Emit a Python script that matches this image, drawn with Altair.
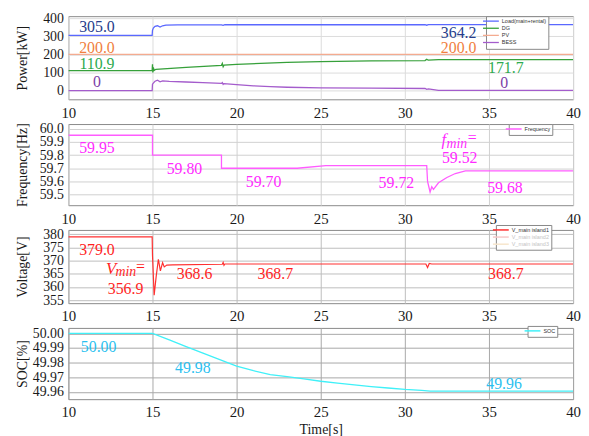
import altair as alt
import pandas as pd

SERIF = "'Liberation Serif', 'Times New Roman', 'DejaVu Serif', serif"
SANS = "'Liberation Sans', Arial, sans-serif"
X_TICKS = [10, 15, 20, 25, 30, 35, 40]

# ---------------- Panel 1: Power [kW] ----------------
power_series = ["Load(main+rental)", "DG", "PV", "BESS"]
power_colors = ["#5a68ff", "#36a03a", "#f4ab90", "#a45ccc"]
power_widths = [1.3, 1.3, 2.4, 1.3]

load_t = [10, 14.98, 15.0, 15.05, 15.15, 15.3, 15.45, 15.6, 15.8, 16.5, 19.1, 19.2, 19.3, 31.2, 31.3, 31.4, 40]
load_kw = [305.0, 305.0, 333, 345, 355, 358, 351, 358, 362, 363, 363, 360, 363.5, 364, 361, 364.2, 364.2]
dg_t = [10, 14.98, 15.0, 15.02, 15.05, 15.1, 15.2, 17, 19.1, 19.15, 19.2, 19.25, 20, 23, 25, 28, 31.2, 31.3, 31.4, 32, 40]
dg_kw = [110.9, 110.9, 145, 100, 128, 112, 118, 129, 140, 150, 132, 141, 145, 156, 160, 164, 166, 173, 168, 171.7, 171.7]
pv_t = [10, 40]
pv_kw = [200.0, 200.0]
bess_t = [10, 14.98, 15.0, 15.05, 15.15, 15.3, 15.45, 15.6, 16, 17, 18, 19.1, 19.15, 19.2, 19.25, 20, 21, 22, 23, 25, 28, 31.2, 31.3, 31.4, 32, 33, 40]
bess_kw = [0, 0, 36, 42, 52, 58, 49, 54, 51, 48, 44, 40, 45, 35, 39, 33, 27, 22, 19, 16, 14, 12, 7, 10, 2, 1.5, 1.5]

power_note_t = [11.7, 11.7, 11.7, 11.7, 33.2, 33.2, 36.0, 35.9]
power_note_v = [351, 236, 145, 45, 318, 236, 127, 40]
power_note_txt = ["305.0", "200.0", "110.9", "0", "364.2", "200.0", "171.7", "0"]
power_note_col = ["#263d8c", "#f0803e", "#2daa4f", "#7d3fa8", "#263d8c", "#f0803e", "#2daa4f", "#7d3fa8"]

# ---------------- Panel 2: Frequency [Hz] ----------------
freq_t = [10, 15, 15, 19.1, 19.1, 23.6, 25.3, 31.3, 31.35, 31.5, 31.6, 31.7, 32.0, 32.5, 33.0, 33.6, 40]
freq_hz = [59.95, 59.95, 59.80, 59.80, 59.70, 59.70, 59.72, 59.72, 59.60, 59.52, 59.56, 59.54, 59.59, 59.63, 59.66, 59.68, 59.68]
freq_note_t = [11.7, 16.9, 21.6, 33.26, 29.5, 35.95]
freq_note_v = [59.85, 59.695, 59.595, 59.78, 59.59, 59.548]
freq_note_txt = ["59.95", "59.80", "59.70", "59.52", "59.72", "59.68"]

# ---------------- Panel 3: Voltage [V] ----------------
volt_t = [10, 14.98, 15.0, 15.1, 15.22, 15.35, 15.47, 15.6, 15.7, 15.85, 16.2, 19.15, 19.2, 19.25, 19.3, 31.25, 31.35, 31.45, 31.6, 40]
volt_v = [379.0, 379.0, 372, 356.9, 364, 370.5, 366.1, 369.2, 367.6, 368.3, 368.4, 368.6, 369.3, 368.2, 368.7, 368.7, 367.4, 368.9, 368.7, 368.7]
volt_note_t = [11.7, 13.4, 17.5, 22.3, 36.0]
volt_note_v = [374.0, 359.4, 365.0, 365.0, 365.0]
volt_note_txt = ["379.0", "356.9", "368.6", "368.7", "368.7"]

# ---------------- Panel 4: SOC [%] ----------------
soc_t = [10, 15, 16, 17, 18, 19, 20, 21, 22, 23, 24, 25, 26, 27, 28, 29, 30, 31, 31.5, 32, 40]
soc_pct = [50.0, 50.0, 49.9955, 49.991, 49.9865, 49.982, 49.9776, 49.9745, 49.9718, 49.9705, 49.969, 49.9673,
           49.966, 49.9648, 49.9637, 49.9627, 49.9617, 49.961, 49.9606, 49.9605, 49.9605]
soc_note_t = [11.8, 17.4, 35.9]
soc_note_v = [49.9904, 49.9765, 49.9657]
soc_note_txt = ["50.00", "49.98", "49.96"]

W = 510


def x_enc(grid_color, title=None):
    return alt.X("t:Q", scale=alt.Scale(domain=[10, 40], nice=False, zero=False),
                 axis=alt.Axis(values=X_TICKS, format="d", title=title, labelFlush=False,
                               labelOverlap=False, labelPadding=6, labelFontSize=15, ticks=False,
                               domain=False, grid=True, gridColor=grid_color, titleFontSize=14,
                               titleFontWeight="normal", titlePadding=3))


def y_enc(title, domain, values, fmt, grid_color, h):
    return alt.Y("v:Q", scale=alt.Scale(domain=domain, nice=False, zero=False),
                 axis=alt.Axis(values=values, format=fmt, title=title, labelFlush=False,
                               labelOverlap=False, labelPadding=5, labelFontSize=14, ticks=False,
                               domain=False, grid=True, gridColor=grid_color, titleFontSize=14,
                               titleFontWeight="normal", titleX=-46, titleY=h / 2, titleAngle=270,
                               titleAlign="center", titleBaseline="middle"))


def legend(x, y, label_color="#333333"):
    return alt.Legend(orient="none", legendX=x, legendY=y, title=None, symbolType="M-4,0L4,0",
                      symbolSize=16, symbolStrokeWidth=1.5, labelFont=SANS, labelFontSize=5.5,
                      labelColor=label_color, labelOffset=8, fillColor="white", strokeColor="#888888",
                      padding=2, rowPadding=0.2, cornerRadius=0)


def notes_layer(ts, vs, txts, cols, xe, ye, size=16):
    df = pd.DataFrame({"t": ts, "v": vs, "label": txts, "c": cols})
    return alt.Chart(df).mark_text(font=SERIF, fontSize=size, align="center", baseline="middle").encode(
        x=xe, y=ye, text="label:N", fill=alt.Fill("c:N", scale=None))


def piece(t, v, txt, col, size, xe, ye, italic=True):
    df = pd.DataFrame({"t": [t], "v": [v], "label": [txt]})
    kw = dict(font=SERIF, fontSize=size, align="left", baseline="alphabetic", color=col)
    if italic:
        kw["fontStyle"] = "italic"
    return alt.Chart(df).mark_text(**kw).encode(x=xe, y=ye, text="label:N")


# ---- Panel 1
rows = []
for name, ts, vs in [("Load(main+rental)", load_t, load_kw), ("DG", dg_t, dg_kw),
                     ("PV", pv_t, pv_kw), ("BESS", bess_t, bess_kw)]:
    for i, (a, b) in enumerate(zip(ts, vs)):
        rows.append({"series": name, "t": a, "v": b, "i": i})
power_df = pd.DataFrame(rows)
H1 = 84
xe1 = x_enc("#dcdcdc")
ye1 = y_enc("Power[kW]", [-47.5, 410.8], [0, 100, 200, 300, 400], "d", "#dcdcdc", H1)
p1_lines = alt.Chart(power_df).mark_line(clip=True).encode(
    x=xe1, y=ye1, order="i:Q",
    color=alt.Color("series:N", scale=alt.Scale(domain=power_series, range=power_colors), legend=legend(422, 0)),
    strokeWidth=alt.StrokeWidth("series:N", scale=alt.Scale(domain=power_series, range=power_widths), legend=None),
)
p1 = alt.layer(p1_lines, notes_layer(power_note_t, power_note_v, power_note_txt, power_note_col, xe1, ye1)
               ).properties(width=W, height=H1)

# ---- Panel 2
H2 = 82
MAG = "#ff2bff"
freq_df = pd.DataFrame({"t": freq_t, "v": freq_hz, "i": list(range(len(freq_t))), "series": "Frequency"})
xe2 = x_enc("#d0d0d0")
ye2 = y_enc("Frequency[Hz]", [59.42, 60.035], [59.5, 59.6, 59.7, 59.8, 59.9, 60.0], ".1f", "#d0d0d0", H2)
p2_lines = alt.Chart(freq_df).mark_line(clip=True, strokeWidth=1.3).encode(
    x=xe2, y=ye2, order="i:Q",
    color=alt.Color("series:N", scale=alt.Scale(domain=["Frequency"], range=["#ff5cff"]), legend=legend(445, 0)))
fmin = [piece(32.18, 59.878, "f", MAG, 17, xe2, ye2),
        piece(32.47, 59.857, "min", MAG, 14, xe2, ye2),
        piece(33.74, 59.889, "=", MAG, 16, xe2, ye2, italic=False)]
p2 = alt.layer(p2_lines, notes_layer(freq_note_t, freq_note_v, freq_note_txt, [MAG] * len(freq_note_t), xe2, ye2),
               *fmin).properties(width=W, height=H2)

# ---- Panel 3
H3 = 74
RED = "#ff1f1f"
volt_df = pd.DataFrame({"t": volt_t, "v": volt_v, "i": list(range(len(volt_t))), "series": "V_main island1"})
xe3 = x_enc("#bdbdbd")
ye3 = y_enc("Voltage[V]", [353.87, 381.61], [355, 360, 365, 370, 375, 380], "d", "#bdbdbd", H3)
faded = alt.ExprRef("datum.label == 'V_main island1' ? '#333333' : '#c4c4c4'")
p3_lines = alt.Chart(volt_df).mark_line(clip=True, strokeWidth=1.2).encode(
    x=xe3, y=ye3, order="i:Q",
    color=alt.Color("series:N", scale=alt.Scale(domain=["V_main island1", "V_main island2", "V_main island3"],
                                                range=["#ff3030", "#f6c9c9", "#f7e6cc"]),
                    legend=legend(432, -5, faded)))
vmin = [piece(12.24, 365.0, "V", RED, 17, xe3, ye3),
        piece(12.8, 364.2, "min", RED, 14, xe3, ye3),
        piece(14.02, 365.6, "=", RED, 16, xe3, ye3, italic=False)]
p3 = alt.layer(p3_lines, notes_layer(volt_note_t, volt_note_v, volt_note_txt, [RED] * len(volt_note_t), xe3, ye3),
               *vmin).properties(width=W, height=H3)

# ---- Panel 4
H4 = 72
CYAN_T = "#2bbfef"
soc_df = pd.DataFrame({"t": soc_t, "v": soc_pct, "i": list(range(len(soc_t))), "series": "SOC"})
xe4 = x_enc("#a8a8a8", "Time[s]")
ye4 = y_enc("SOC[%]", [49.95507, 50.00372], [49.96, 49.97, 49.98, 49.99, 50.0], ".2f", "#a8a8a8", H4)
p4_lines = alt.Chart(soc_df).mark_line(clip=True, strokeWidth=1.3).encode(
    x=xe4, y=ye4, order="i:Q",
    color=alt.Color("series:N", scale=alt.Scale(domain=["SOC"], range=["#3ff0f8"]), legend=legend(464, -2)))
p4 = alt.layer(p4_lines, notes_layer(soc_note_t, soc_note_v, soc_note_txt, [CYAN_T] * len(soc_note_t), xe4, ye4)
               ).properties(width=W, height=H4)

chart = alt.vconcat(p1, p2, p3, p4, spacing=25, bounds="flush").resolve_scale(
    color="independent", strokeWidth="independent"
).resolve_legend(color="independent").properties(
    padding={"left": 7, "top": 0, "right": 0, "bottom": 0}
).configure_view(stroke="#8a8a8a", strokeWidth=1).configure_axis(
    labelFont=SERIF, titleFont=SERIF, labelColor="#1a1a1a", titleColor="#1a1a1a"
)

chart.save("out.html", embed_options={"renderer": "svg", "actions": False})
